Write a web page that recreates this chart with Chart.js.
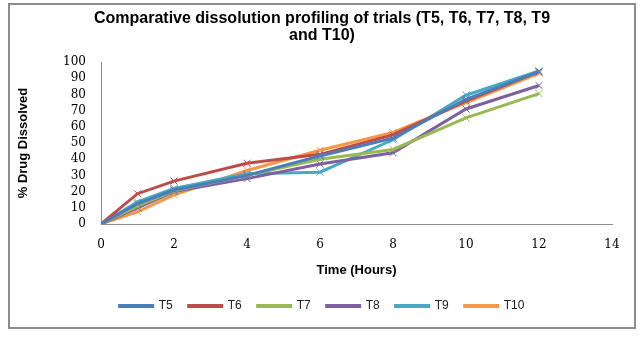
<!DOCTYPE html>
<html><head><meta charset="utf-8">
<script src="https://cdn.jsdelivr.net/npm/chart.js@4/dist/chart.umd.min.js"></script>
<style>
html,body{margin:0;padding:0;background:#fff;}
#frame{position:absolute;left:8px;top:3px;width:624px;height:322px;border:2px solid #8c8c8c;}
#wrap{position:absolute;left:0;top:0;width:624px;height:322px;}
</style></head><body>
<div id="frame"><div id="wrap"><canvas id="c"></canvas></div></div>
<script>
const hours = [0, 1, 2, 4, 6, 8, 10, 12];
const seriesNames = ["T5", "T6", "T7", "T8", "T9", "T10"];
const T5  = [0, 12.5, 21, 30, 42, 53, 77, 94];
const T6  = [0, 18.7, 26.5, 37.5, 43, 55, 76, 94];
const T7  = [0, 11, 20.5, 30, 40, 46, 65.5, 80.5];
const T8  = [0, 10, 20, 28, 37, 44, 71, 85.5];
const T9  = [0, 13.6, 22, 31, 32, 52, 79.5, 94.5];
const T10 = [0, 7.5, 18, 33, 45.5, 56.5, 75, 93];
const colors = ["#4A7EBB", "#BE4B48", "#98B954", "#7D60A0", "#46AAC5", "#F79646"];
const values = [T5, T6, T7, T8, T9, T10];
const xTicks = [0, 2, 4, 6, 8, 10, 12, 14];

const datasets = seriesNames.map((n, i) => ({
  label: n,
  data: hours.map((h, j) => ({x: h, y: values[i][j]})),
  borderColor: colors[i],
  backgroundColor: colors[i],
  borderWidth: 3,
  pointStyle: 'crossRot',
  pointRadius: 5,
  pointBorderWidth: 1,
  pointBorderColor: colors[i],
  tension: 0,
  fill: false
}));

new Chart(document.getElementById('c'), {
  type: 'line',
  data: { datasets },
  options: {
    responsive: true, maintainAspectRatio: false, animation: false,
    layout: { padding: { left: 0, right: 0, top: 0, bottom: 5 } },
    plugins: {
      title: { display: true, text: ["Comparative dissolution profiling of trials (T5, T6, T7, T8, T9", "and T10)"],
        font: { family: "Arial, 'Liberation Sans'", size: 16, weight: 'bold', lineHeight: 1.05 }, color: '#000',
        padding: { top: 5, bottom: 18.4 } },
      legend: { position: 'bottom',
        labels: { boxWidth: 33, boxHeight: 1, padding: 16, color: '#222',
          font: { family: "Arial, 'Liberation Sans'", size: 12 } } },
      tooltip: { enabled: false }
    },
    scales: {
      x: { type: 'linear', min: 0, max: 14,
        afterBuildTicks: s => { s.ticks = xTicks.map(v => ({value: v})); },
        afterFit: s => { s.height = 60; s.paddingRight = 22; },
        grid: { display: false, drawTicks: false },
        border: { display: true, color: '#8c8c8c', width: 1 },
        ticks: { color: '#000', padding: 14, font: { family: "'DejaVu Serif', serif", size: 12 } },
        title: { display: true, text: 'Time (Hours)', color: '#000', padding: { top: 6, bottom: 6 },
          font: { family: "Arial, 'Liberation Sans'", size: 13, weight: 'bold' } } },
      y: { min: 0, max: 100,
        grid: { display: false, drawTicks: false },
        border: { display: true, color: '#8c8c8c', width: 1 },
        ticks: { stepSize: 10, autoSkip: false, color: '#000', padding: 15, font: { family: "'DejaVu Serif', serif", size: 12 } },
        title: { display: true, text: '% Drug Dissolved', color: '#000', padding: { top: 6, bottom: 6 },
          font: { family: "Arial, 'Liberation Sans'", size: 13, weight: 'bold' } },
        afterFit: s => { s.width = 91; } }
    }
  }
});
</script></body></html>
